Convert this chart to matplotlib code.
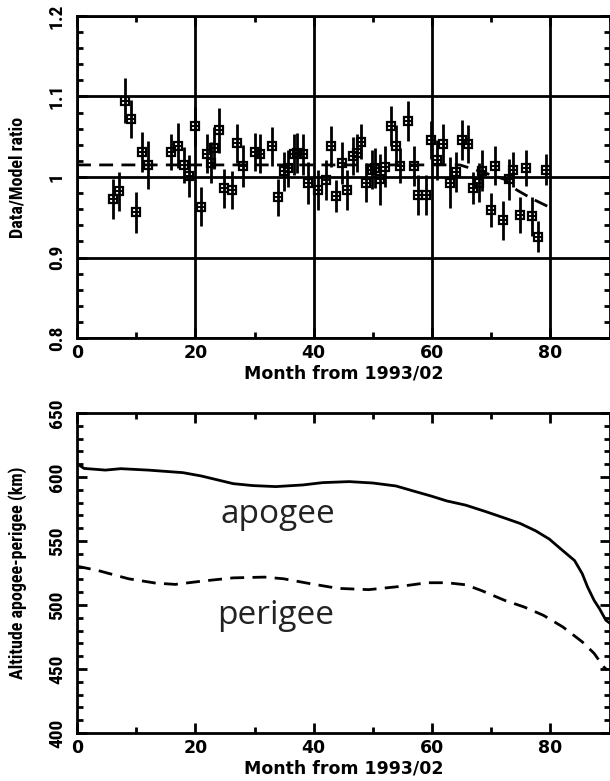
import matplotlib
matplotlib.use("Agg")
import matplotlib.pyplot as plt
from matplotlib import font_manager
from matplotlib.ticker import MultipleLocator

# ---- Top panel data: Data/Model ratio ----
month = [6.0, 7.1, 8.1, 9.1, 10.0, 11.0, 12.0, 15.9, 17.1, 18.0, 19.0, 20.0, 21.0,
         22.0, 22.6, 23.1, 24.0, 24.8, 26.2, 27.0, 28.0, 30.0, 31.0, 33.0, 34.0,
         35.0, 35.6, 36.6, 37.2, 38.2, 39.0, 40.8, 42.0, 43.0, 43.8, 44.8, 45.7,
         46.7, 47.3, 48.0, 48.8, 49.8, 50.4, 51.2, 52.0, 53.0, 53.9, 54.6, 55.9,
         57.0, 57.7, 59.0, 59.8, 60.8, 61.8, 63.0, 64.1, 65.0, 66.0, 66.9, 67.9,
         68.5, 69.9, 70.7, 72.0, 73.0, 73.7, 74.8, 75.9, 76.9, 77.9, 79.2]
ratio = [0.973, 0.982, 1.095, 1.072, 0.956, 1.031, 1.015, 1.031, 1.039, 1.015, 1.001,
         1.063, 0.963, 1.029, 1.018, 1.036, 1.058, 0.986, 0.984, 1.042, 1.014, 1.031,
         1.029, 1.038, 0.975, 1.007, 1.011, 1.028, 1.030, 1.028, 0.993, 0.984, 0.996,
         1.038, 0.976, 1.017, 0.984, 1.026, 1.030, 1.044, 0.993, 1.009, 1.011, 0.997,
         1.013, 1.063, 1.039, 1.014, 1.070, 1.014, 0.978, 0.978, 1.046, 1.021, 1.041,
         0.993, 1.006, 1.046, 1.041, 0.986, 0.993, 1.008, 0.959, 1.014, 0.946, 0.997,
         1.009, 0.953, 1.011, 0.951, 0.926, 1.009]
ratio_err = [0.025, 0.024, 0.028, 0.024, 0.025, 0.025, 0.030, 0.022, 0.028, 0.022, 0.026,
             0.024, 0.024, 0.024, 0.025, 0.026, 0.028, 0.024, 0.024, 0.024, 0.026, 0.024,
             0.024, 0.024, 0.023, 0.024, 0.023, 0.025, 0.025, 0.025, 0.026, 0.025, 0.025,
             0.025, 0.020, 0.026, 0.025, 0.024, 0.024, 0.022, 0.024, 0.024, 0.025, 0.032,
             0.025, 0.025, 0.025, 0.022, 0.025, 0.025, 0.025, 0.025, 0.024, 0.025, 0.025,
             0.032, 0.025, 0.025, 0.024, 0.020, 0.024, 0.025, 0.021, 0.024, 0.024, 0.025,
             0.022, 0.022, 0.022, 0.024, 0.019, 0.019]
model_month = [0, 64.7, 66.9, 72.3, 74.3, 76.9, 80.0]
model_ratio = [1.015, 1.015, 1.010, 0.997, 0.984, 0.973, 0.962]
ratio_ticks = [0.8, 0.9, 1.0, 1.1, 1.2]
ratio_ticklabels = ["0.8", "0.9", "1", "1.1", "1.2"]

# ---- Bottom panel data: apogee / perigee altitude (km) ----
apo_month = [0, 1.2, 4.8, 7.4, 12, 17.9, 21, 26.4, 29.7, 33.6, 38.2, 41.5, 46, 50,
             53.9, 57.2, 59.8, 62.5, 65.7, 69, 72.3, 74.9, 77.5, 79.8, 82.1, 84.1,
             85.4, 86.3, 87.4, 88.3, 89.4, 90]
apogee = [610.4, 606.7, 605.4, 606.5, 605.4, 603.4, 600.8, 594.8, 593.3, 592.5, 593.8,
          595.6, 596.4, 595.3, 593.0, 588.6, 585.2, 581.3, 578.0, 573.1, 567.9, 563.7,
          558.0, 551.6, 542.5, 534.7, 524.4, 514.0, 503.6, 497.2, 488.0, 486.0]
per_month = [0, 3.5, 8.7, 13.3, 16.6, 21.2, 26.4, 31.7, 34.9, 39.5, 44.1, 49.3, 54.6,
             59.2, 62.5, 65.7, 68.3, 72.3, 75.6, 78.8, 82.1, 85.4, 87.4, 89.0, 89.6]
perigee = [530.3, 527.0, 520.5, 517.1, 516.1, 518.7, 521.2, 521.8, 520.5, 516.6, 513.0,
           512.0, 514.5, 517.4, 517.4, 515.8, 511.4, 503.6, 498.4, 492.0, 482.9, 471.2,
           462.2, 451.8, 449.2]
alt_ticks = [400, 450, 500, 550, 600, 650]
alt_ticklabels = ["400", "450", "500", "550", "600", "650"]

installed = {f.name for f in font_manager.fontManager.ttflist}
narrow = None
for name, tsize, lsize in [("Liberation Sans Narrow", 15, 13.5),
                           ("DejaVu Sans Condensed", 13, 12),
                           ("Roboto Condensed", 14, 13),
                           ("Open Sans Condensed", 14, 13)]:
    if name in installed:
        narrow = dict(family=name, fontweight="bold")
        ytick_size, ylab_size = tsize, lsize
        break
if narrow is None:
    narrow = dict(family="DejaVu Sans", fontweight="bold")
    ytick_size, ylab_size = 11.5, 11.5

fig = plt.figure(figsize=(6.10, 7.81), dpi=100)
W, H = 610.0, 781.0
L, R = 77 / W, 609.5 / W

ax1 = fig.add_axes([L, 1 - 338 / H, R - L, (338 - 16) / H])
ax2 = fig.add_axes([L, 1 - 733 / H, R - L, (733 - 413) / H])

for ax in (ax1, ax2):
    for s in ax.spines.values():
        s.set_linewidth(2.0)
    ax.tick_params(which="both", direction="in", top=True, right=True, width=2.0)
    ax.tick_params(axis="x", labelsize=12.5, pad=4)
    ax.tick_params(axis="y", pad=8)
    ax.tick_params(which="major", length=7)
    ax.tick_params(which="minor", length=4)
    ax.set_xlim(0, 90)
    ax.xaxis.set_major_locator(MultipleLocator(20))
    ax.xaxis.set_minor_locator(MultipleLocator(10))
    for lbl in ax.get_xticklabels():
        lbl.set_fontweight("bold")
    ax.set_xlabel("Month from 1993/02", fontsize=12.5, labelpad=2,
                  family="DejaVu Sans", fontweight="bold")

# Top panel
ax1.set_ylim(0.8, 1.2)
ax1.yaxis.set_minor_locator(MultipleLocator(0.02))
ax1.set_yticks(ratio_ticks)
ax1.set_yticklabels(ratio_ticklabels, rotation=90, va="center", fontsize=ytick_size,
                    **narrow)
ax1.grid(True, which="major", color="black", linewidth=2.0)
ax1.set_axisbelow(True)
ax1.plot(model_month, model_ratio, color="black", linestyle=(0, (5, 3)), linewidth=2.0,
         zorder=3)
ax1.errorbar(month, ratio, yerr=ratio_err, fmt="none", ecolor="black", elinewidth=2.0,
             capsize=0, zorder=4)
ax1.plot(month, ratio, linestyle="none", marker="s", markersize=5.5,
         markerfacecolor="none", markeredgecolor="black", markeredgewidth=1.6, zorder=5)
ax1.plot(month, ratio, linestyle="none", marker="_", markersize=5.5,
         markeredgecolor="black", markeredgewidth=1.4, zorder=5)
ax1.set_ylabel("Data/Model ratio", fontsize=ylab_size, **narrow)
ax1.yaxis.set_label_coords(-0.094, 0.5)

# Bottom panel
ax2.set_ylim(400, 650)
ax2.yaxis.set_minor_locator(MultipleLocator(10))
ax2.set_yticks(alt_ticks)
ax2.set_yticklabels(alt_ticklabels, rotation=90, va="center", fontsize=ytick_size,
                    **narrow)
ax2.plot(apo_month, apogee, color="black", linewidth=2.0)
ax2.plot(per_month, perigee, color="black", linewidth=2.0, linestyle=(0, (5, 3)))
ax2.text(34, 571, "apogee", fontsize=24, family=["Open Sans", "DejaVu Sans"],
         ha="center", va="center", color="#222222")
ax2.text(33.6, 492, "perigee", fontsize=24, family=["Open Sans", "DejaVu Sans"],
         ha="center", va="center", color="#222222")
ax2.set_ylabel("Altitude apogee-perigee (km)", fontsize=ylab_size, **narrow)
ax2.yaxis.set_label_coords(-0.094, 0.5)

fig.savefig("out.png", dpi=100)
